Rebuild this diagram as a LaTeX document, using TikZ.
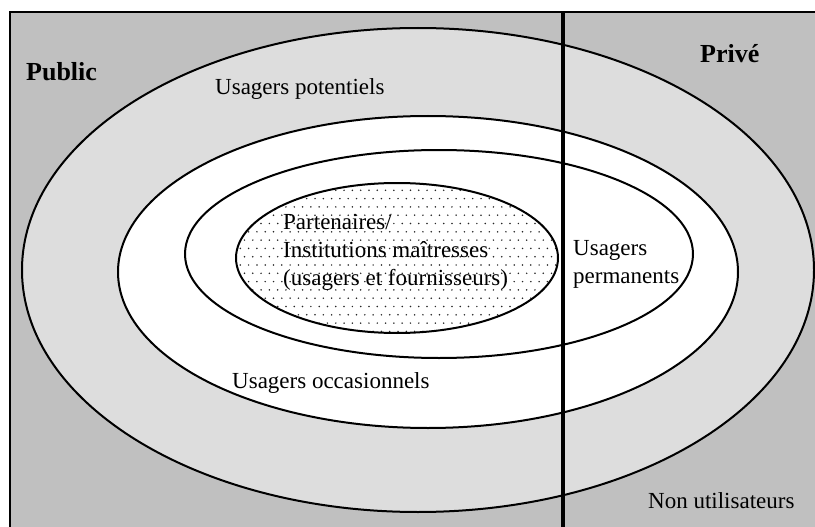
\documentclass[tikz,border=0pt]{standalone}
\usepackage{fontspec}
\setmainfont{Liberation Serif}
\definecolor{outergray}{RGB}{192,192,192}
\definecolor{lightgray2}{RGB}{221,221,221}
\tikzset{
  ring/.style={draw=black, line width=2pt},
  lbl/.style={inner sep=0pt, font=\fontsize{23}{27}\selectfont, align=left},
  bold/.style={inner sep=0pt, font=\fontsize{26}{30}\selectfont\bfseries},
}
\begin{document}
\begin{tikzpicture}[x=1pt,y=-1pt]
\useasboundingbox (0,0) rectangle (815,527);
% background
\fill[outergray] (10,12) rectangle (815,527);
% ellipses
\filldraw[ring, fill=lightgray2] (418,270) ellipse [x radius=396, y radius=242];
\filldraw[ring, fill=white] (428,272) ellipse [x radius=310, y radius=156];
\filldraw[ring, fill=white] (439,254) ellipse [x radius=254, y radius=104];
\fill[white] (397,258) ellipse [x radius=161, y radius=75];
\begin{scope}
  \clip (397,258) ellipse [x radius=161, y radius=75];
  \foreach \j in {0,...,19}{
    \foreach \i in {0,...,40}{
      \pgfmathsetmacro{\xx}{232+\i*8.3+mod(\j,2)*4.15}
      \pgfmathsetmacro{\yy}{182+\j*8.3}
      \fill[black!85] (\xx,\yy) circle (0.85);
    }
  }
\end{scope}
\draw[ring] (397,258) ellipse [x radius=161, y radius=75];
% divider and borders
\coordinate (dtop) at (563,12);
\coordinate (dbot) at (563,527);
\draw[line width=3.6pt] (dtop) -- (dbot);
\coordinate (tl) at (10,12);
\coordinate (tr) at (815,12);
\coordinate (bl) at (10,527);
\draw[line width=2.6pt] (bl) -- (tl) -- (tr);
% texts
\node[bold, anchor=base west] (public) at (26,81) {Public};
\node[bold, anchor=base west] (prive) at (700,63) {Privé};
\node[lbl, anchor=base west] (pot) at (215,95) {Usagers potentiels};
\node[lbl, anchor=base west] (occ) at (232,388) {Usagers occasionnels};
\node[lbl, anchor=base west] (non) at (648,508) {Non utilisateurs};
\node[lbl, anchor=north west] (perm) at (573,240) {Usagers\\[1pt]permanents};
\node[lbl, anchor=north west] (part) at (283,214) {Partenaires/\\[1pt]Institutions maîtresses\\[1pt](usagers et fournisseurs)};
\end{tikzpicture}
\end{document}
